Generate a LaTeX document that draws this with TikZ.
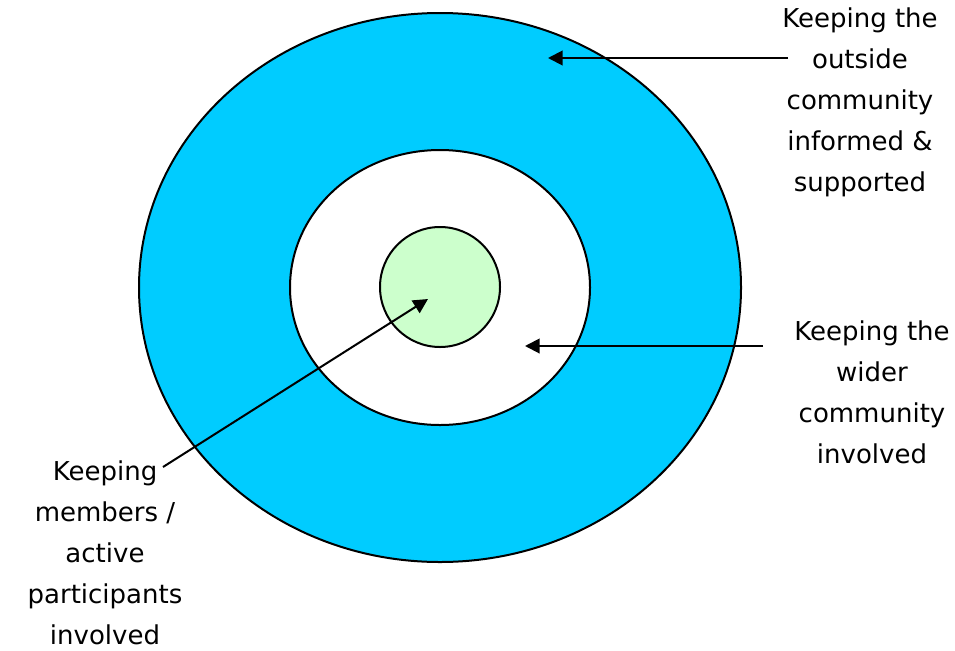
\documentclass[tikz,border=0pt]{standalone}
\usepackage{fontspec}
\setmainfont{DejaVu Sans}
\usetikzlibrary{arrows.meta}
\definecolor{ringblue}{HTML}{00CCFF}
\definecolor{coregreen}{HTML}{CCFFCC}
\tikzset{
  ring/.style={draw=black, line width=1.5pt},
  label/.style={align=center, font=\fontsize{19.5pt}{30.75pt}\selectfont, inner sep=0pt},
  pointer/.style={draw=black, line width=1.5pt, -{Triangle[length=11pt,width=11pt]}}
}
\begin{document}
\begin{tikzpicture}[x=0.75pt,y=-0.75pt]
\useasboundingbox (0,0) rectangle (955,650);
\path[ring, fill=ringblue] (440,287.5) ellipse [x radius=301, y radius=274.5];
\path[ring, fill=white] (440,287.5) ellipse [x radius=150, y radius=137.5];
\path[ring, fill=coregreen] (440,287) ellipse [x radius=60, y radius=60];
\node[label] (outer) at (860,102) {Keeping the\\outside\\community\\informed \&\\supported};
\node[label] (wider) at (872,392) {Keeping the\\wider\\community\\involved};
\node[label] (members) at (105,553) {Keeping\\members /\\active\\participants\\involved};
\coordinate (s1) at (788,58);
\coordinate (e1) at (548,58);
\coordinate (s2) at (763,346);
\coordinate (e2) at (525,346);
\coordinate (s3) at (163,467);
\coordinate (e3) at (428,299);
\draw[pointer] (s1) -- (e1);
\draw[pointer] (s2) -- (e2);
\draw[pointer] (s3) -- (e3);
\end{tikzpicture}
\end{document}
